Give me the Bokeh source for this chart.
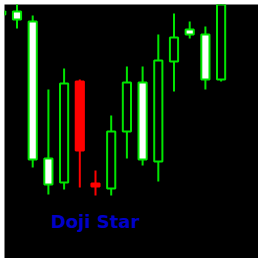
from bokeh.plotting import figure
from bokeh.models import Range1d, ColumnDataSource, Label
from bokeh.embed import file_html
from bokeh.resources import INLINE

# Bar index and OHLC prices
idx = [0, 1, 2, 3, 4, 5, 6, 7, 8, 9, 10, 11, 12, 13, 14]
opens = [1.3144, 1.3147, 1.3137, 1.3000, 1.2976, 1.3077, 1.2975, 1.2970, 1.3027, 1.3076, 1.2997, 1.3097, 1.3129, 1.3124, 1.3079]
highs = [1.3150, 1.3155, 1.3143, 1.3069, 1.3090, 1.3079, 1.2988, 1.3043, 1.3092, 1.3092, 1.3124, 1.3145, 1.3137, 1.3132, 1.3165]
lows = [1.3138, 1.3130, 1.2991, 1.2964, 1.2969, 1.2971, 1.2963, 1.2963, 1.3000, 1.2993, 1.2977, 1.3067, 1.3120, 1.3069, 1.3077]
closes = [1.3147, 1.3139, 1.2999, 1.2974, 1.3075, 1.3008, 1.2972, 1.3027, 1.3076, 1.2999, 1.3098, 1.3121, 1.3124, 1.3079, 1.3158]
pattern = [False, False, False, False, False, True, True, False, False, False, False, False, False, False, False]
label_text = "Doji Star"

LIME = "#00e600"
fills, lines = [], []
for o, c, pt in zip(opens, closes, pattern):
    if pt:
        fills.append("#ff0000"); lines.append("#ff0000")
    elif c >= o:
        fills.append("black"); lines.append(LIME)
    else:
        fills.append("white"); lines.append(LIME)

src = ColumnDataSource(dict(
    x=idx, o=opens, h=highs, l=lows, c=closes,
    top=[max(a, b) for a, b in zip(opens, closes)],
    bottom=[min(a, b) for a, b in zip(opens, closes)],
    fill=fills, line=lines,
))

p = figure(width=258, height=258, output_backend="svg", toolbar_location=None,
           x_range=Range1d(0.2038, 16.382), y_range=Range1d(1.2900, 1.3154),
           min_border=0, min_border_left=4, min_border_top=4,
           background_fill_color="black", border_fill_color="white",
           outline_line_color=None)
p.axis.visible = False
p.grid.visible = False

p.segment(x0="x", y0="l", x1="x", y1="h", source=src, line_color="line", line_width=2)
p.vbar(x="x", width=0.52, top="top", bottom="bottom", source=src,
       fill_color="fill", line_color="line", line_width=2)

p.add_layout(Label(x=3.15, y=1.2937, text=label_text, text_color="#0000c8",
                   text_font="DejaVu Sans", text_font_style="bold", text_font_size="18px",
                   text_baseline="alphabetic"))

open("out.html", "w").write(file_html(p, INLINE))
